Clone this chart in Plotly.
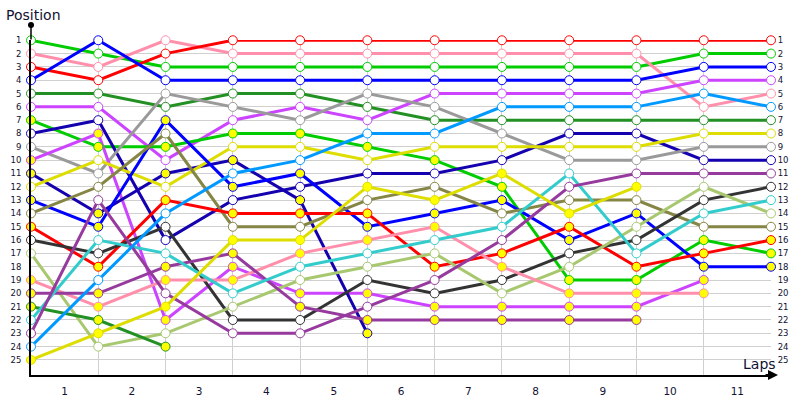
import plotly.graph_objects as go

laps = list(range(0, 12))
lap_tick_labels = [str(i) for i in range(1, 12)]
position_ticks = list(range(1, 26))

# Position of each driver at the start (lap 0) and after each lap
red_a = [3, 4, 2, 1, 1, 1, 1, 1, 1, 1, 1, 1]
green_a = [1, 2, 3, 3, 3, 3, 3, 3, 3, 3, 2, 2]
pink_a = [2, 3, 1, 2, 2, 2, 2, 2, 2, 2, 6, 5]
blue_a = [4, 1, 4, 4, 4, 4, 4, 4, 4, 4, 3, 3]
dkgreen_a = [5, 5, 6, 5, 5, 6, 7, 7, 7, 7, 7, 7]
magenta_a = [6, 6, 10, 7, 6, 7, 5, 5, 5, 5, 4, 4]
green_b = [7, 9, 9, 8, 8, 9, 10, 12, 19, 19, 16, 17]
navy_a = [8, 7, 16, 13, 12, 11, 11, 10, 8, 8, 10, 10]
gray_a = [9, 11, 5, 6, 7, 5, 6, 8, 10, 10, 9, 9]
magenta_b = [10, 8, 22, 18, 20, 20, 21, 21, 21, 21, 19]
navy_b = [11, 14, 11, 10, 13, 23]
yellow_a = [12, 10, 12, 9, 9, 10, 9, 9, 9, 9, 8, 8]
blue_b = [13, 15, 7, 12, 11, 15, 14, 13, 16, 14, 18, 18]
olive_a = [14, 12, 8, 15, 15, 13, 12, 14, 13, 13, 15, 15]
red_b = [15, 18, 13, 14, 14, 14, 18, 17, 15, 18, 17, 16]
dkgray_a = [16, 17, 15, 22, 22, 19, 20, 19, 17, 16, 13, 12]
ltgreen_a = [17, 24, 23, 21, 19, 18, 17, 20, 18, 15, 12, 14]
pink_b = [19, 21, 19, 19, 17, 16, 15, 18, 20, 20, 20]
purple_a = [20, 20, 18, 17, 21, 22, 22, 22, 22, 22]
dkgreen_b = [21, 22, 24]
cyan_a = [22, 16, 17, 20, 18, 17, 16, 15, 11, 17, 14, 13]
purple_b = [23, 13, 20, 23, 23, 21, 19, 16, 12, 11, 11, 11]
skyblue_a = [24, 19, 14, 11, 10, 8, 8, 6, 6, 6, 5, 6]
yellow_b = [25, 23, 21, 16, 16, 12, 13, 11, 14, 12]

series = [green_a, pink_a, red_a, blue_a, dkgreen_a, magenta_a, green_b, navy_a,
          gray_a, magenta_b, navy_b, yellow_a, blue_b, olive_a, red_b, dkgray_a,
          ltgreen_a, pink_b, purple_a, dkgreen_b, cyan_a, purple_b, skyblue_a, yellow_b]

# styles (line colour, marker fill) in the same order
line_colors = ["#00CC00", "#FF8FAB", "#FF0000", "#0000FF", "#229022", "#CC44FF", "#00CC00", "#1500B0",
               "#9A9A9A", "#CC44FF", "#1500B0", "#DDDD00", "#0000FF", "#858545", "#FF0000", "#333333",
               "#A8C870", "#FF8FAB", "#963A9E", "#229022", "#33CCCC", "#963A9E", "#0099FF", "#DDDD00"]
Y = "#FFFF00"
W = "#FFFFFF"
fills = [W, W, W, W, W, W, Y, W,
         W, Y, Y, W, Y, W, Y, W,
         W, Y, Y, Y, W, W, W, Y]

fig = go.Figure()

for vals, col in zip(series, line_colors):
    fig.add_trace(go.Scatter(x=laps[:len(vals)], y=vals, mode="lines",
                             line=dict(color=col, width=3), hoverinfo="skip",
                             showlegend=False, cliponaxis=False))
for vals, col, f in zip(series, line_colors, fills):
    fig.add_trace(go.Scatter(x=laps[:len(vals)], y=vals, mode="markers",
                             marker=dict(size=9, color=f, line=dict(color=col, width=1)),
                             showlegend=False, cliponaxis=False))

# dummy trace for the right-hand position axis
fig.add_trace(go.Scatter(x=[None], y=[None], yaxis="y2", showlegend=False))

tick_font = dict(family="DejaVu Sans", size=8.5, color="#111133")

fig.update_layout(
    width=800, height=400,
    margin=dict(l=31, r=29, t=40, b=25, autoexpand=False),
    paper_bgcolor="white", plot_bgcolor="white",
    xaxis=dict(range=[0, 11], tickvals=[l - 0.5 for l in laps[1:]], ticktext=lap_tick_labels,
               showgrid=False, zeroline=False, showline=True, linecolor="black", linewidth=2,
               ticks="outside", ticklen=5, tickcolor="rgba(0,0,0,0)", automargin=False,
               tickfont=dict(family="DejaVu Sans", size=10.5, color="#111133"),
               minor=dict(tick0=0, dtick=1, showgrid=True, gridcolor="#D0D0D0", gridwidth=1)),
    yaxis=dict(range=[26.13, 0.98], tickvals=position_ticks, ticktext=[str(p) for p in position_ticks],
               showgrid=True, gridcolor="#D0D0D0", gridwidth=1, zeroline=False, automargin=False,
               showline=True, linecolor="black", linewidth=2,
               ticks="outside", ticklen=6, tickcolor="rgba(0,0,0,0)", tickfont=tick_font),
    yaxis2=dict(range=[26.13, 0.98], tickvals=position_ticks, ticktext=[str(p) for p in position_ticks],
                overlaying="y", side="right", anchor="x", showgrid=False, zeroline=False, automargin=False,
                showline=False, ticks="outside", ticklen=4, tickcolor="rgba(0,0,0,0)", tickfont=tick_font),
    annotations=[
        dict(text="Position", x=-0.0365, y=1.075, xref="paper", yref="paper", xanchor="left",
             yanchor="middle", showarrow=False, font=dict(family="DejaVu Sans", size=14, color="#111133")),
        dict(text="Laps", x=0.984, y=0.033, xref="paper", yref="paper", xanchor="center",
             yanchor="middle", showarrow=False, font=dict(family="DejaVu Sans", size=14, color="#111133")),
        dict(text="", x=1.0095, y=0, xref="paper", yref="paper", ax=-14, ay=0,
             showarrow=True, arrowhead=2, arrowsize=1, arrowwidth=2, arrowcolor="black"),
        dict(text="", x=0, y=1.045, xref="paper", yref="paper", ax=0, ay=16,
             showarrow=True, arrowhead=6, arrowsize=1, arrowwidth=1.5, arrowcolor="black"),
    ],
)

fig.write_html("out.html", config={"displayModeBar": False},
               post_script="document.body.style.margin='0';")
